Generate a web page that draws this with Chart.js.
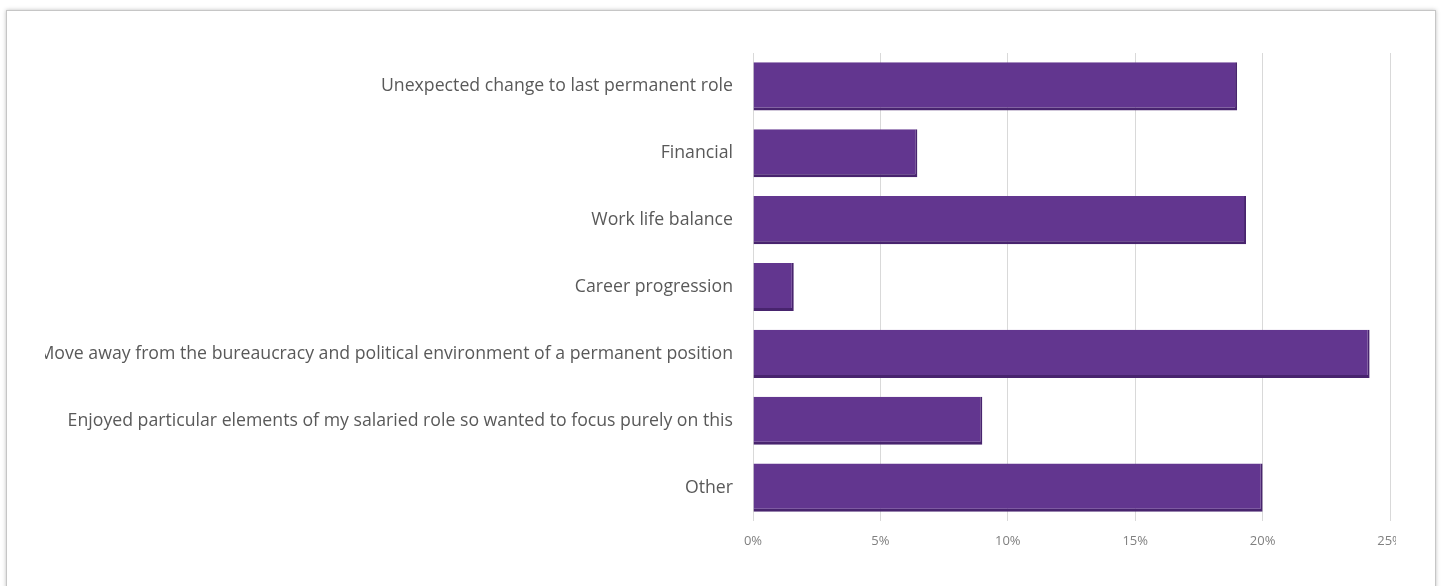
<!DOCTYPE html>
<html>
<head>
<meta charset="utf-8">
<script src="https://cdn.jsdelivr.net/npm/chart.js@4.4.1/dist/chart.umd.min.js"></script>
<style>
    html, body { margin: 0; padding: 0; background: #fff; overflow: hidden; }
    body { width: 1443px; height: 586px; position: relative; }
    .frame {
        position: absolute; left: 6px; top: 10px; width: 1428px; height: 620px;
        border: 1px solid #c6c6c6;
        box-shadow: 0 0 4px rgba(0,0,0,0.25);
        background: #fff;
    }
    .holder { position: absolute; left: 45px; top: 53px; width: 1351px; height: 508px; }
</style>
</head>
<body>
<div class="frame"></div>
<div class="holder"><canvas id="grafico"></canvas></div>
<script>
// Datos del gráfico
const categorias = [
    'Unexpected change to last permanent role',
    'Financial',
    'Work life balance',
    'Career progression',
    'Move away from the bureaucracy and political environment of a permanent position',
    'Enjoyed particular elements of my salaried role so wanted to focus purely on this',
    'Other'
];
const porcentajes = [19.0, 6.45, 19.35, 1.6, 24.2, 9.0, 20.0];
const ticksX = [0, 5, 10, 15, 20, 25];

const colorBarra = '#62368f';
const colorBorde = '#48246e';

document.addEventListener('DOMContentLoaded', function() {
    const ctx = document.getElementById('grafico').getContext('2d');

    new Chart(ctx, {
        type: 'bar',
        data: {
            labels: categorias,
            datasets: [{
                data: porcentajes,
                backgroundColor: colorBarra,
                borderColor: colorBorde,
                borderWidth: { top: 0, left: 0, bottom: 3, right: 2 },
                borderSkipped: false,
                categoryPercentage: 1,
                barPercentage: 0.72
            }]
        },
        options: {
            indexAxis: 'y',
            responsive: true,
            maintainAspectRatio: false,
            animation: false,
            layout: { padding: { top: 0, left: 0, bottom: 0, right: 6 } },
            plugins: {
                legend: { display: false },
                tooltip: { enabled: false }
            },
            scales: {
                x: {
                    min: 0,
                    max: 25,
                    afterBuildTicks: s => { s.ticks = ticksX.map(v => ({ value: v })); },
                    afterFit: s => { s.height = 40; s.paddingRight = 0; s.paddingLeft = 0; },
                    grid: { color: '#d9d9d9', lineWidth: 1, drawTicks: false },
                    border: { display: false },
                    ticks: {
                        padding: 12,
                        color: '#808080',
                        font: { family: 'Open Sans', size: 13 },
                        callback: v => v + '%'
                    }
                },
                y: {
                    afterFit: s => { s.width = 708; s.paddingTop = 0; s.paddingBottom = 0; },
                    grid: { display: false, drawTicks: false },
                    border: { display: false },
                    ticks: {
                        padding: 20,
                        color: '#595959',
                        font: { family: 'Open Sans', size: 17.7 }
                    }
                }
            }
        }
    });
});
</script>
</body>
</html>
